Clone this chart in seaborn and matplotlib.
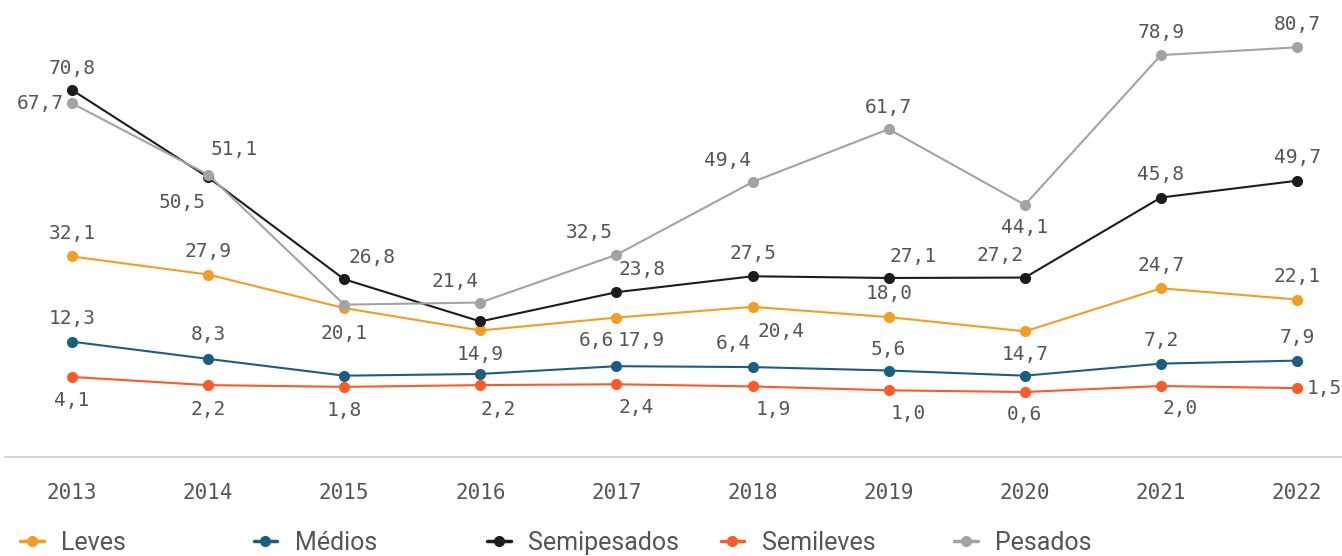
import pandas as pd
import matplotlib
matplotlib.use("Agg")
import matplotlib.pyplot as plt
from matplotlib.lines import Line2D
import seaborn as sns

# Dados
anos = [2013, 2014, 2015, 2016, 2017, 2018, 2019, 2020, 2021, 2022]
leves = [32.1, 27.9, 20.1, 14.9, 17.9, 20.4, 18.0, 14.7, 24.7, 22.1]
medios = [12.3, 8.3, 4.4, 4.8, 6.6, 6.4, 5.6, 4.4, 7.2, 7.9]
semipesados = [70.8, 50.5, 26.8, 17.0, 23.8, 27.5, 27.1, 27.2, 45.8, 49.7]
semileves = [4.1, 2.2, 1.8, 2.2, 2.4, 1.9, 1.0, 0.6, 2.0, 1.5]
pesados = [67.7, 51.1, 20.9, 21.4, 32.5, 49.4, 61.7, 44.1, 78.9, 80.7]

categorias = ["Leves", "Médios", "Semipesados", "Semileves", "Pesados"]
cores = ["#F59D20", "#1B5E84", "#1C1C1C", "#FF5A26", "#A3A3A3"]

series = dict(zip(categorias, [leves, medios, semipesados, semileves, pesados]))

rows = []
for cat, vals in series.items():
    for a, v in zip(anos, vals):
        rows.append({"ano": a, "valor": v, "categoria": cat})
df = pd.DataFrame(rows)

# posição dos rótulos (dx, dy em pixels); None = sem rótulo
pos_rotulos = {
    "Leves": [(0, 23), (0, 23), (0, -25), (0, -24), (25, -23), (28, -25), (0, 24), (0, -23), (0, 23), (0, 23)],
    "Médios": [(0, 23), (0, 24), None, None, (-20, 26), (-19, 24), (0, 21), None, (0, 23), (0, 23)],
    "Semipesados": [(0, 21), (-26, -25), (28, 22), None, (26, 23), (0, 23), (24, 21), (-25, 22), (0, 23), (0, 23)],
    "Semileves": [(0, -24), (0, -24), (0, -24), (18, -24), (20, -23), (21, -23), (20, -23), (0, -22), (19, -23), (27, 0)],
    "Pesados": [(-32, 0), (26, 25), None, (-25, 21), (-27, 22), (-25, 22), (0, 22), (0, -23), (0, 23), (0, 23)],
}

texto = "#555555"
mono = "DejaVu Sans Mono"

sns.set_style("white")
plt.rcParams["font.family"] = ["Roboto", "DejaVu Sans"]

fig = plt.figure(figsize=(13.42, 5.56), dpi=100)
ax = fig.add_axes([5 / 1342, 99 / 556, 1 - 5 / 1342, 457 / 556])

sns.lineplot(data=df, x="ano", y="valor", hue="categoria", hue_order=categorias,
             palette=cores, marker="o", markersize=8, markeredgewidth=0,
             linewidth=1.5, legend=False, ax=ax)

for cat in categorias:
    for a, v, p in zip(anos, series[cat], pos_rotulos[cat]):
        if p is None:
            continue
        ax.annotate(f"{v:.1f}".replace(".", ","), (a, v), xytext=p,
                    textcoords="offset pixels", ha="center", va="center",
                    fontsize=14, family=mono, color=texto, annotation_clip=False)

ax.set_xlim(2012.508, 2022.33)
ax.set_ylim(-14.5, 91.7)
ax.set_xticks(anos)
ax.set_xticklabels([str(a) for a in anos], family=mono, fontsize=15, color=texto)
ax.set_yticks([])
ax.set_xlabel("")
ax.set_ylabel("")
ax.tick_params(axis="x", length=0, pad=19)
for s in ["top", "left", "right"]:
    ax.spines[s].set_visible(False)
ax.spines["bottom"].set_color("#cccccc")
ax.spines["bottom"].set_linewidth(1.2)

# legenda com espaçamento fixo entre itens
for i, (cat, cor) in enumerate(zip(categorias, cores)):
    h = Line2D([], [], color=cor, marker="o", markersize=8, markeredgewidth=0, linewidth=2.5)
    fig.legend(handles=[h], labels=[cat], loc="center left",
               bbox_to_anchor=((20 + i * 233.5) / 1342, 1 - 543 / 556),
               frameon=False, borderpad=0, borderaxespad=0, handlelength=0.95,
               handletextpad=0.7, prop={"family": "Roboto", "size": 18},
               labelcolor=texto)

fig.savefig("out.png", dpi=100)
